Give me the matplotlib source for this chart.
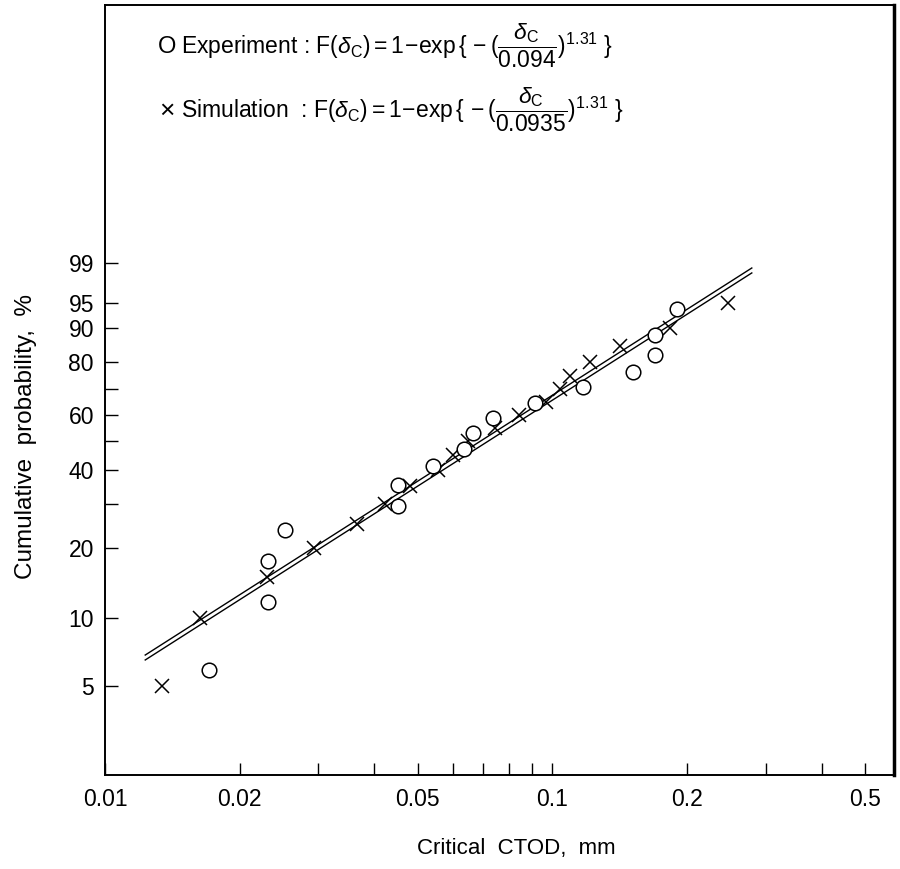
import numpy as np
import matplotlib
matplotlib.use('Agg')
import matplotlib.pyplot as plt

plt.rcParams['font.family'] = ['Liberation Sans', 'DejaVu Sans']
plt.rcParams['mathtext.fontset'] = 'custom'
plt.rcParams['mathtext.rm'] = 'Liberation Sans'
plt.rcParams['mathtext.it'] = 'Liberation Sans:italic'
plt.rcParams['mathtext.bf'] = 'Liberation Sans:bold'

# experiment (circles): critical CTOD (mm) and cumulative probability (%)
exp_ctod = [0.0171, 0.0231, 0.0231, 0.0252, 0.0451, 0.0451, 0.0542, 0.0636,
            0.0666, 0.0735, 0.0916, 0.1173, 0.1517, 0.1698, 0.1698, 0.1901]
exp_prob = [5.9, 11.8, 17.6, 23.5, 29.4, 35.3, 41.2, 47.1,
            52.9, 58.8, 64.7, 70.6, 76.5, 82.4, 88.2, 94.1]

# simulation (crosses)
sim_ctod = [0.0134, 0.0163, 0.0230, 0.0293, 0.0365, 0.0422, 0.0480, 0.0554,
            0.0598, 0.0649, 0.0746, 0.0840, 0.0965, 0.1042, 0.1097, 0.1216,
            0.1419, 0.1834, 0.247]
sim_prob = [5, 10, 15, 20, 25, 30, 35, 40, 45, 50, 55, 60, 65, 70, 75, 80,
            85, 90, 95]

# fitted Weibull lines (end points)
fit_ctod = [0.0123, 0.279]
fit_exp_prob = [6.88, 98.72]
fit_sim_prob = [6.54, 98.4]

y_ticks = [5, 10, 20, 30, 40, 50, 60, 70, 80, 90, 95, 99]
y_ticklabels = ['5', '10', '20', '', '40', '', '60', '', '80', '90', '95', '99']
x_major = [0.01, 0.02, 0.05, 0.1, 0.2, 0.5]
x_labels = ['0.01', '0.02', '0.05', '0.1', '0.2', '0.5']
x_minor = [0.03, 0.04, 0.06, 0.07, 0.08, 0.09, 0.3, 0.4]


def weibull(p):
    p = np.asarray(p, dtype=float) / 100.0
    return np.log(-np.log(1.0 - p))


fig = plt.figure(figsize=(9, 8.69), dpi=100)
ax = fig.add_axes([105 / 900, 1 - 775 / 869, 789 / 900, 770 / 869])

ax.plot(fit_ctod, weibull(fit_exp_prob), color='black', lw=1.0, zorder=2)
ax.plot(fit_ctod, weibull(fit_sim_prob), color='black', lw=1.0, zorder=2)
ax.plot(sim_ctod, weibull(sim_prob), ls='none', marker='x', ms=9.5,
        mew=1.1, color='black', zorder=3)
ax.plot(exp_ctod, weibull(exp_prob), ls='none', marker='o', ms=10.5,
        mew=1.1, mfc='white', mec='black', zorder=4)

ax.set_xscale('log')
ax.set_xlim(0.01, 0.58)
ax.set_ylim(-3.916, 4.267)

ax.set_xticks(x_major)
ax.set_xticklabels(x_labels)
ax.set_xticks(x_minor, minor=True)
ax.set_xticklabels([], minor=True)
ax.set_yticks(weibull(y_ticks))
ax.set_yticklabels(y_ticklabels)
ax.yaxis.set_minor_locator(plt.NullLocator())

ax.tick_params(axis='both', which='both', direction='in', length=9,
               width=1.0, labelsize=16.5, color='black')
ax.tick_params(axis='x', which='both', pad=9)
ax.tick_params(axis='y', pad=8)
ax.tick_params(top=False, right=False)

for side in ['left', 'bottom', 'top']:
    ax.spines[side].set_linewidth(1.4)
ax.spines['right'].set_linewidth(2.5)

ax.set_xlabel('Critical  CTOD,  mm', fontsize=16)
ax.xaxis.set_label_coords(0.521, -0.082)
ax.set_ylabel('Cumulative  probability,  %', fontsize=17.5)
ax.yaxis.set_label_coords(-0.086, 0.44)

# legend-like formula block
fig.text(167 / 900, 1 - 47 / 869, 'O', fontsize=17, va='center', ha='center')
fig.text(167 / 900, 1 - 111 / 869, '×', fontsize=19, va='center', ha='center')
fig.text(181 / 900, 1 - 54 / 869,
         r'Experiment : $\mathrm{F}(\delta_\mathrm{C}) = 1\!-\!\mathrm{exp}\,\{\,-(\dfrac{\delta_\mathrm{C}}{0.094})^{1.31}\ \}$',
         fontsize=16.5, va='baseline', ha='left')
fig.text(181 / 900, 1 - 118 / 869,
         r'Simulation  : $\mathrm{F}(\delta_\mathrm{C}) = 1\!-\!\mathrm{exp}\,\{\,-(\dfrac{\delta_\mathrm{C}}{0.0935})^{1.31}\ \}$',
         fontsize=16.5, va='baseline', ha='left')

plt.savefig('out.png', dpi=100)
